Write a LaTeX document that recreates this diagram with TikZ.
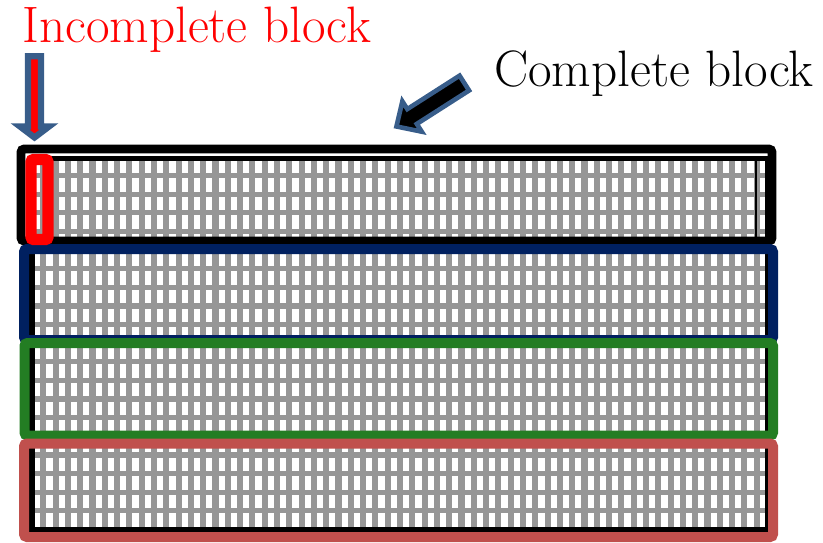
\documentclass[tikz,border=0pt]{standalone}
\usepackage{fontspec}
\usepackage{tikz}

\begin{document}
\begin{tikzpicture}[x=0.75pt,y=0.75pt,yscale=-1,xscale=1,
  gridline/.style={color={rgb, 255:red, 150; green, 150; blue, 150 }},
  frame/.style={line width=7.5pt, rounded corners=2.25pt},
  blockarrow/.style={color={rgb, 255:red, 56; green, 93; blue, 138 }, line join=miter},
  label/.style={font=\fontsize{38.4}{46}\selectfont, inner sep=0pt, anchor=base west}]
\useasboundingbox (0,0) rectangle (823,542);

%Grid: vertical lines
\foreach \i in {0,...,58}
  \draw [gridline, line width=4.6pt] ({43.3+12.3*\i},158.5) -- ({43.3+12.3*\i},530) ;
%Grid: horizontal lines
\foreach \j in {0,...,18}
  \draw [gridline, line width=3.9pt] (32,{175.5+18.63*\j}) -- (767,{175.5+18.63*\j}) ;
%Shape: Rectangle (grid outline)
\draw [line width=4.2pt] (32,158.5) rectangle (767.5,530) ;

%Shape: Rectangle (complete block, black)
\draw [frame, line width=6.5pt] (21,149) rectangle (772,241) ;
%Straight Lines
\draw [line width=1pt] (756,156) -- (756,238) ;
%Shape: Rectangle (blue)
\draw [frame, color={rgb, 255:red, 0; green, 32; blue, 96 }] (24,249) rectangle (773,340) ;
%Shape: Rectangle (green)
\draw [frame, color={rgb, 255:red, 35; green, 125; blue, 35 }] (24.5,343) rectangle (773,435.5) ;
%Shape: Rectangle (rose)
\draw [frame, color={rgb, 255:red, 192; green, 80; blue, 77 }] (24,443.5) rectangle (773,537) ;
%Shape: Rectangle (incomplete block)
\draw [line width=8.5pt, rounded corners=2pt, color={rgb, 255:red, 255; green, 0; blue, 0 }] (31,159.5) rectangle (48,239.5) ;

%Shape: Down Arrow
\draw [blockarrow, line width=4.7pt, fill={rgb, 255:red, 255; green, 0; blue, 0 }] (28.05,56.2) -- (28.05,126.5) -- (20,126.5) -- (34.5,137.5) -- (49,126.5) -- (40.95,126.5) -- (40.95,56.2) -- cycle ;
%Shape: Arrow
\draw [blockarrow, line width=3.45pt, fill=black] (469.06,90.5) -- (416.79,123.92) -- (421.75,131.67) -- (396.45,126.47) -- (402.35,101.33) -- (407.31,109.08) -- (459.57,75.66) -- cycle ;

% Text Node
\draw (22,42.7) node [label, color={rgb, 255:red, 255; green, 0; blue, 0 }] (incomplete) {Incomplete block};
% Text Node
\draw (494,86.7) node [label] (complete) {Complete block};

\end{tikzpicture}
\end{document}
